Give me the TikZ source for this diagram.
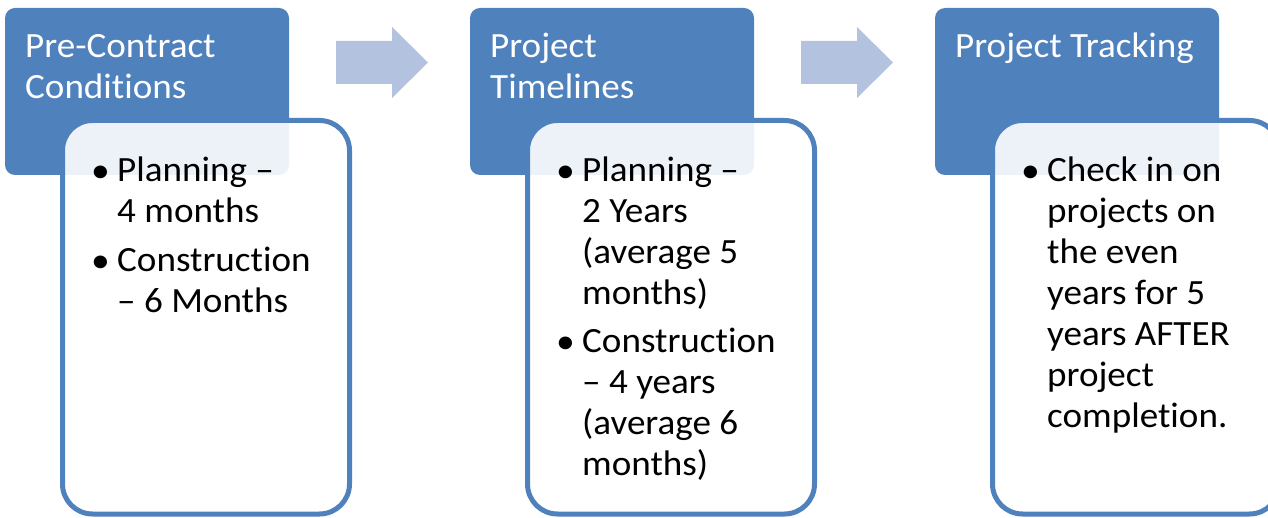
\documentclass[tikz,border=0pt]{standalone}
\usepackage{fontspec}
\setmainfont{Carlito}[Ligatures=NoCommon,FakeStretch=1.045]
\usetikzlibrary{positioning,calc}
\definecolor{stageblue}{HTML}{4F81BD}
\definecolor{arrowblue}{HTML}{B3C2DE}
\newcommand{\bulletmark}{\makebox[22pt][l]{\hspace{-4pt}{\fontsize{36pt}{41pt}\selectfont\raisebox{-0.5pt}{\textbullet}}}}

\begin{document}
\begin{tikzpicture}[x=1pt,y=-1pt,
	stage/.style={fill=stageblue,rounded corners=10pt,minimum width=284pt,minimum height=167pt,inner sep=0pt,outer sep=0pt},
	info/.style={draw=stageblue,line width=5pt,fill=white,fill opacity=0.9,rounded corners=30pt,minimum width=287pt,minimum height=393.5pt,inner sep=0pt,outer sep=0pt,anchor=north west},
	headtext/.style={text=white,inner sep=0pt,anchor=base west,font=\fontsize{35.5pt}{41pt}\selectfont},
	bodytext/.style={text=black,inner sep=0pt,anchor=base west,font=\fontsize{35.5pt}{41pt}\selectfont},
	flowarrow/.style={fill=arrowblue}]
		\clip (0,0) rectangle (1268,518);
		\useasboundingbox (0,0) rectangle (1268,518);
		
		\node[stage,anchor=north west] (pre) at (5,8) {};
		\node[stage,right=181pt of pre] (timelines) {};
		\node[stage,right=181pt of timelines] (tracking) {};
		
		\node[info,shift={(57.5,112.5)}] (preinfo) at (pre.north west) {};
		\node[info,shift={(57.5,112.5)}] (timelinesinfo) at (timelines.north west) {};
		\node[info,shift={(57.5,112.5)}] (trackinginfo) at (tracking.north west) {};
		
		\foreach \s in {pre,timelines}
			\fill[flowarrow,shift={(\s.north east)}] (47,33) -- (103,33) -- (103,19) -- (139,54.5) -- (103,90) -- (103,76) -- (47,76) -- cycle;
		
		\node[headtext] (pretitle) at ($(pre.north west)+(20,50)$) {\begin{tabular}[t]{@{}l@{}}Pre-Contract\\Conditions\end{tabular}};
		\node[headtext] (timelinestitle) at ($(timelines.north west)+(20,50)$) {\begin{tabular}[t]{@{}l@{}}Project\\Timelines\end{tabular}};
		\node[headtext] (trackingtitle) at ($(tracking.north west)+(20,50)$) {Project Tracking};
		
		\node[bodytext] (prebody) at ($(preinfo.north west)+(32.5,61.5)$) {\begin{tabular}[t]{@{}l@{}l@{}}
				\bulletmark & Planning –\\
				& 4 months\\[8pt]
				\bulletmark & Construction\\
				& – 6 Months
			\end{tabular}};
		\node[bodytext] (timelinesbody) at ($(timelinesinfo.north west)+(32.5,61.5)$) {\begin{tabular}[t]{@{}l@{}l@{}}
				\bulletmark & Planning –\\
				& 2 Years\\
				& (average 5\\
				& months)\\[7pt]
				\bulletmark & Construction\\
				& – 4 years\\
				& (average 6\\
				& months)
			\end{tabular}};
		\node[bodytext] (trackingbody) at ($(trackinginfo.north west)+(32.5,61.5)$) {\begin{tabular}[t]{@{}l@{}l@{}}
				\bulletmark & Check in on\\
				& projects on\\
				& the even\\
				& years for 5\\
				& years AFTER\\
				& project\\
				& completion.
			\end{tabular}};
	\end{tikzpicture}
\end{document}
